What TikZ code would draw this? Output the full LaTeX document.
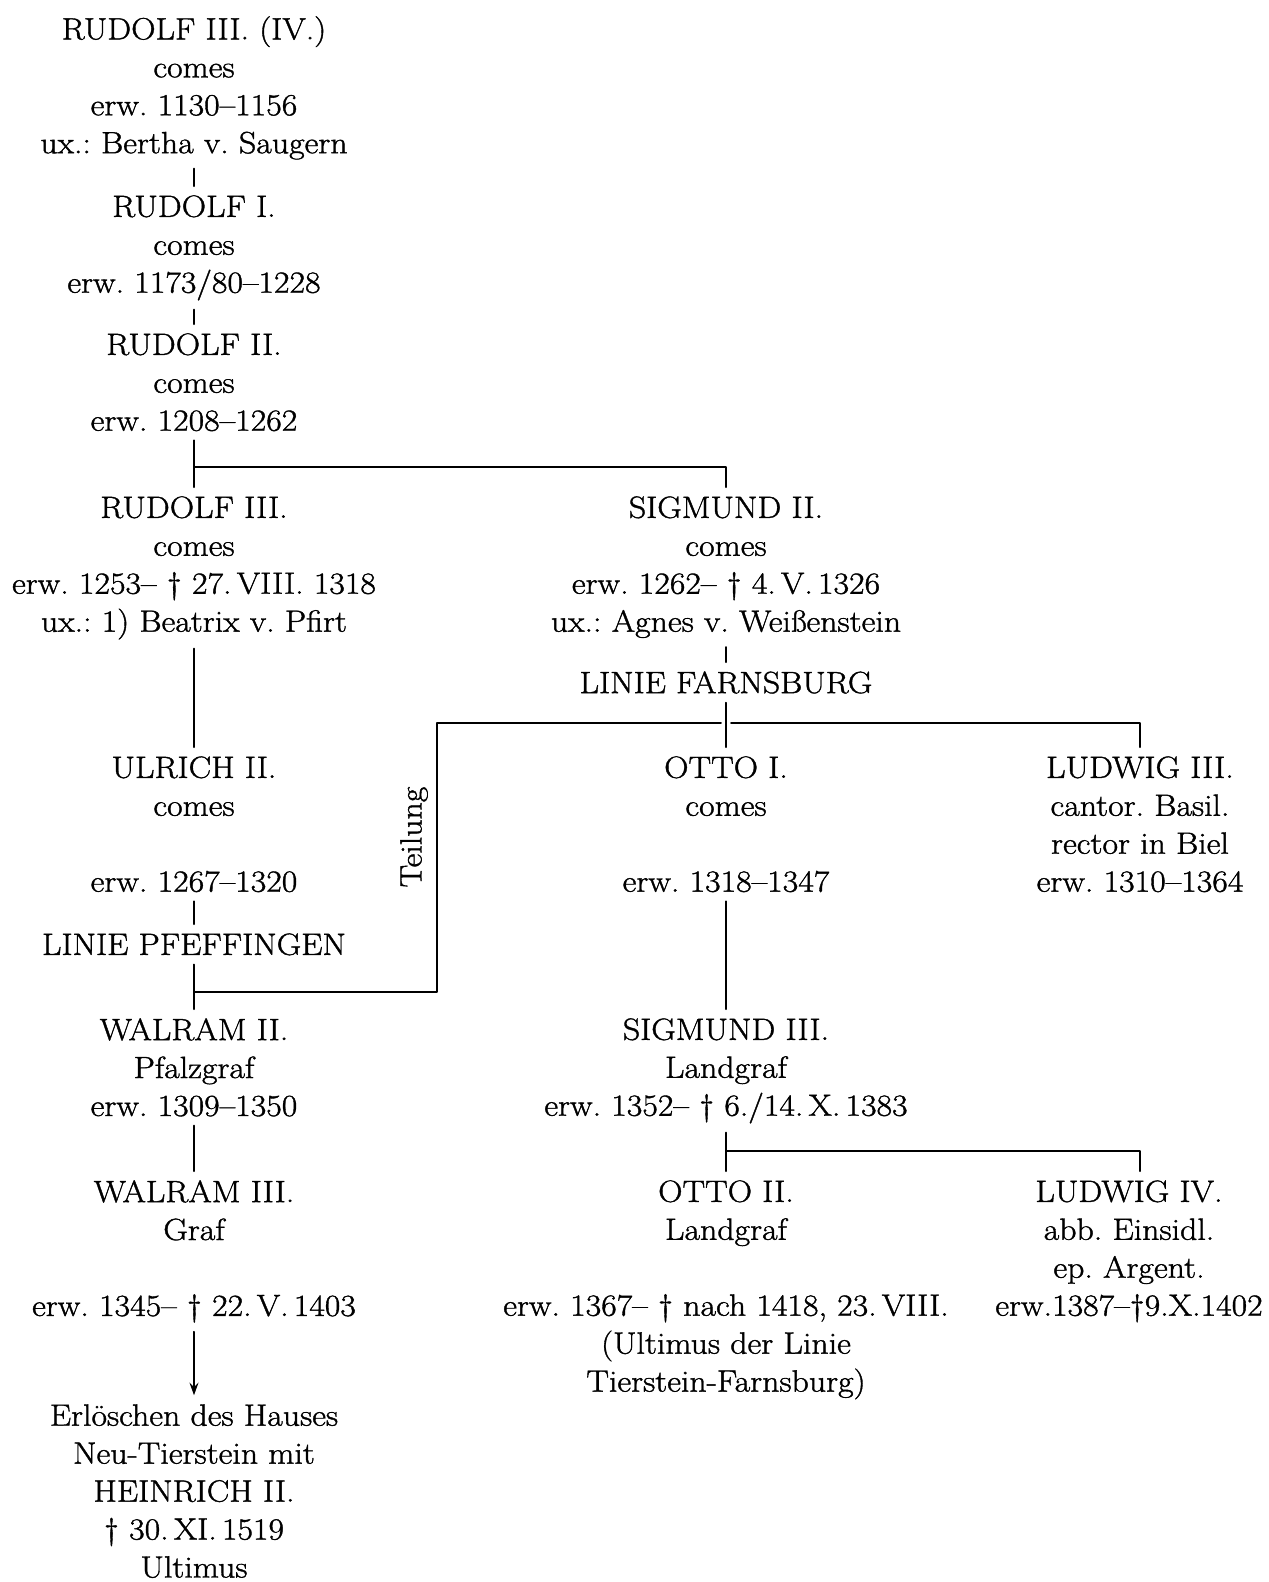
\documentclass[tikz,border=0pt]{standalone}
\usepackage{fontspec}
\setmainfont{Latin Modern Roman}[FakeStretch=1.1,BoldFont={Latin Modern Roman},BoldFeatures={FakeBold=1.2}]
\frenchspacing
\usetikzlibrary{arrows.meta}
\begin{document}
\begin{tikzpicture}[line join=round, line cap=round,>={Stealth[length=7pt,width=5pt]},x=0.02cm,y=-0.02cm]
	\tikzset{every node/.style={align=center,inner sep=0pt,anchor=north,font=\fontsize{17.5}{21.6}\selectfont\bfseries},
		stem/.style={line width=1.1pt,shorten <=5pt,shorten >=5pt},
		branch/.style={line width=1.1pt,shorten >=5pt}}
	\useasboundingbox (0,0) rectangle (1268,1582);
	% Stamm
	\node (rudIV) at (194,16) {RUDOLF III. (IV.)\\comes\\erw. 1130--1156\\ux.: Bertha v. Saugern};
	\node (rudI) at (194,195) {RUDOLF I.\\comes\\erw. 1173/80--1228};
	\node (rudII) at (194,333) {RUDOLF II.\\comes\\erw. 1208--1262};
	\node (rudIII) at (194,496) {RUDOLF III.\\comes\\erw. 1253-- \textdagger\ 27.\,VIII. 1318\\ux.: 1) Beatrix v. Pfirt};
	\node (sigII) at (726,496) {SIGMUND II.\\comes\\erw. 1262-- \textdagger\ 4.\,V.\,1326\\ux.: Agnes v. Weißenstein};
	\node (farns) at (726,671) {LINIE FARNSBURG};
	\node (ulrII) at (194,756) {ULRICH II.\\comes\\[21.6pt]erw. 1267--1320};
	\node (ottoI) at (726,756) {OTTO I.\\comes\\[21.6pt]erw. 1318--1347};
	\node (ludIII) at (1140,756) {LUDWIG III.\\cantor. Basil.\\rector in Biel\\erw. 1310--1364};
	\node (pfeff) at (194,933) {LINIE PFEFFINGEN};
	\node[rotate=90,anchor=center] (teil) at (414,837) {Teilung};
	\node (walII) at (194,1018) {WALRAM II.\\Pfalzgraf\\erw. 1309--1350};
	\node (sigIII) at (726,1018) {SIGMUND III.\\Landgraf\\erw. 1352-- \textdagger\ 6./14.\,X.\,1383};
	\node (walIII) at (194,1180) {WALRAM III.\\Graf\\[21.6pt]erw. 1345-- \textdagger\ 22.\,V.\,1403};
	\node (ottoII) at (726,1180) {OTTO II.\\Landgraf\\[21.6pt]erw. 1367-- \textdagger\ nach 1418, 23.\,VIII.\\(Ultimus der Linie\\Tierstein-Farnsburg)};
	\node (ludIV) at (1129,1180) {LUDWIG IV.\\abb. Einsidl.\\ep. Argent.\\erw.1387--\textdagger9.X.1402};
	\node (erl) at (194,1404) {Erlöschen des Hauses\\Neu-Tierstein mit\\HEINRICH II.\\\textdagger\ 30.\,XI.\,1519\\Ultimus};
	\coordinate (kn1) at (0,467);
	\coordinate (kn2) at (437,723);
	\coordinate (kn3) at (437,992);
	\coordinate (kn4) at (0,1151);
	% Linien
	\draw[stem] (rudIV.south) -- (rudI.north);
	\draw[stem] (rudI.south) -- (rudII.north);
	\draw[stem] (rudII.south) -- (rudIII.north);
	\draw[branch] (kn1 -| rudII) -| (sigII.north);
	\draw[stem] (rudIII.south) -- (ulrII.north);
	\draw[stem] (ulrII.south) -- (pfeff.north);
	\draw[stem] (pfeff.south) -- (walII.north);
	\draw[stem] (walII.south) -- (walIII.north);
	\draw[stem,->] (walIII.south) -- (erl.north);
	\draw[stem] (sigII.south) -- (farns.north);
	\draw[stem] (farns.south) -- (ottoI.north);
	\draw[line width=1.1pt] ([xshift=-0.1cm]kn2 -| ottoI) -- (kn2) -- (kn3) -- (kn3 -| pfeff);
	\draw[branch] ([xshift=0.1cm]kn2 -| ottoI) -| (ludIII.north);
	\draw[stem] (ottoI.south) -- (sigIII.north);
	\draw[stem] (sigIII.south) -- (ottoII.north);
	\draw[branch] (kn4 -| sigIII) -| ([xshift=0.22cm]ludIV.north);
\end{tikzpicture}
\end{document}
